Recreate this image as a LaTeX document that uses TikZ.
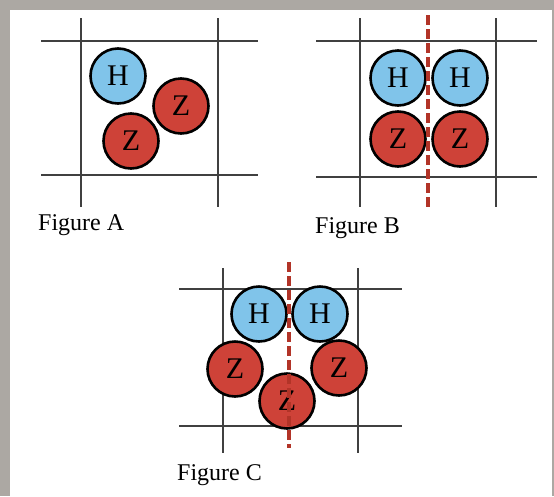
\documentclass[tikz,border=0pt]{standalone}
\usepackage{fontspec}
\setmainfont{Liberation Serif}
\definecolor{fondo}{RGB}{172,168,163}
\definecolor{azulH}{RGB}{128,196,234}
\definecolor{rojoZ}{RGB}{206,66,56}
\definecolor{rojoL}{RGB}{178,52,40}
\begin{document}
\begin{tikzpicture}[
        x=1pt, y=-1pt,
        % Líneas de la cuadrícula
        linea/.style={draw=black!75, line width=1.8pt},
        % Átomos (círculos con letra)
        atomo/.style={circle, draw=black, line width=2.6pt, minimum size=55pt, inner sep=0pt, font=\fontsize{30}{30}\selectfont},
        hidro/.style={atomo, fill=azulH},
        zeta/.style={atomo, fill=rojoZ},
        % Plano de simetría (línea roja discontinua)
        espejo/.style={draw=rojoL, line width=3.5pt, dash pattern=on 10pt off 4pt},
        % Títulos de las figuras
        titulo/.style={anchor=base west, inner sep=0pt, font=\fontsize{24}{24}\selectfont}
    ]

        % Fondo: marco gris y panel blanco
        \fill[fondo] (0,0) rectangle (554,496);
        \fill[white] (10,10) rectangle (552,496);
        \useasboundingbox (0,0) rectangle (554,496);

        % Figura A
        \draw[linea] (41,41) -- (258,41);
        \draw[linea] (41,175) -- (258,175);
        \draw[linea] (81,18) -- (81,207);
        \draw[linea] (218,18) -- (218,207);
        \node[hidro] (hA) at (118,76) {H};
        \node[zeta] (zA1) at (181,106) {Z};
        \node[zeta] (zA2) at (131,141) {Z};
        \node[titulo] (figA) at (38,230) {Figure A};

        % Figura B
        \draw[linea] (316,41) -- (537,41);
        \draw[linea] (316,177) -- (537,177);
        \draw[linea] (360,18) -- (360,207);
        \draw[linea] (496,18) -- (496,207);
        \node[hidro] (hB1) at (398,78) {H};
        \node[hidro] (hB2) at (460,78) {H};
        \node[zeta] (zB1) at (398,139) {Z};
        \node[zeta] (zB2) at (460,139) {Z};
        \draw[espejo] (428,15) -- (428,207);
        \node[titulo] (figB) at (315,233) {Figure B};

        % Figura C
        \draw[linea] (179,289) -- (402,289);
        \draw[linea] (179,426) -- (402,426);
        \draw[linea] (223,268) -- (223,453);
        \draw[linea] (358,268) -- (358,453);
        \node[hidro] (hC1) at (259,314) {H};
        \node[hidro] (hC2) at (320,314) {H};
        \node[zeta] (zC1) at (235,369) {Z};
        \node[zeta] (zC2) at (339,368) {Z};
        \node[zeta] (zC3) at (287,401) {Z};
        \draw[espejo] (289,262) -- (289,448);
        \node[titulo] (figC) at (177,480) {Figure C};

    \end{tikzpicture}
\end{document}
